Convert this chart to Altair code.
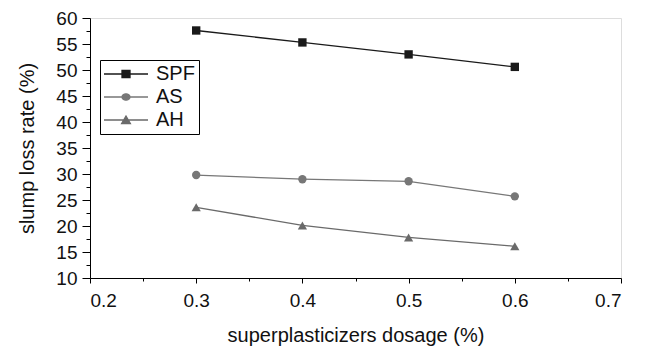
import altair as alt
import pandas as pd

dosage = [0.3, 0.4, 0.5, 0.6]
spf = [57.6, 55.3, 53.0, 50.6]
as_vals = [29.8, 29.0, 28.6, 25.7]
ah_vals = [23.6, 20.1, 17.8, 16.1]

series_names = ["SPF", "AS", "AH"]
series_colors = ["#1a1a1a", "#777777", "#6a6a6a"]
marker_shapes = ["square", "circle", "triangle-up"]
marker_sizes = [70, 70, 85]
legend_shapes = [
    "M-2.75,0H2.75M-0.5,-0.45H0.5V0.45H-0.5Z",
    "M-2.75,0H2.75M-0.5,0A0.5,0.4,0,1,0,0.5,0A0.5,0.4,0,1,0,-0.5,0Z",
    "M-2.75,0H2.75M0,-0.5L0.55,0.45L-0.55,0.45Z",
]

x_major = [0.2, 0.3, 0.4, 0.5, 0.6, 0.7]
x_minor = [0.25, 0.35, 0.45, 0.55, 0.65]
y_major = [10, 15, 20, 25, 30, 35, 40, 45, 50, 55, 60]
y_minor = [12.5, 17.5, 22.5, 27.5, 32.5, 37.5, 42.5, 47.5, 52.5, 57.5]

rows = []
for name, vals in zip(series_names, [spf, as_vals, ah_vals]):
    for d, v in zip(dosage, vals):
        rows.append({"dosage": d, "rate": v, "series": name, "key": name})
df = pd.DataFrame(rows)

FONT = "Liberation Sans"
xscale = alt.Scale(domain=[0.2, 0.7], nice=False, zero=False)
yscale = alt.Scale(domain=[10, 60], nice=False, zero=False)
cscale = alt.Scale(domain=series_names, range=series_colors)

x_axis = alt.Axis(values=x_major, format=".1f", title="superplasticizers dosage (%)", orient="bottom",
                  grid=False, tickSize=5, labelFontSize=19, titleFontSize=20,
                  labelPadding=8, titlePadding=15, domainColor="black", tickColor="black",
                  labelColor="#111", titleColor="#111", titleFontWeight="normal",
                  labelFont=FONT, titleFont=FONT)
y_axis = alt.Axis(values=y_major, format="d", title="slump loss rate (%)", orient="left",
                  grid=False, tickSize=8, labelFontSize=19, titleFontSize=20,
                  labelPadding=5, titlePadding=18, domainColor="black", tickColor="black",
                  labelColor="#111", titleColor="#111", titleFontWeight="normal",
                  labelFont=FONT, titleFont=FONT)

base = alt.Chart(df)

lines = base.mark_line(strokeWidth=1.3).encode(
    x=alt.X("dosage:Q", scale=xscale, axis=x_axis),
    y=alt.Y("rate:Q", scale=yscale, axis=y_axis),
    color=alt.Color("series:N", scale=cscale, legend=None),
    detail="series:N",
)

point_layers = []
for name, shp, sz in zip(series_names, marker_shapes, marker_sizes):
    point_layers.append(
        base.transform_filter(alt.datum.series == name).mark_point(
            filled=True, size=sz, opacity=1, shape=shp
        ).encode(
            x=alt.X("dosage:Q", scale=xscale, axis=None),
            y=alt.Y("rate:Q", scale=yscale, axis=None),
            color=alt.Color("series:N", scale=cscale, legend=None),
        )
    )

minor = base.mark_point(opacity=0).encode(
    x=alt.X("dosage:Q", scale=xscale,
            axis=alt.Axis(values=x_minor, labels=False, title=None, domain=False, grid=False,
                          orient="bottom", tickSize=3, tickColor="black")),
    y=alt.Y("rate:Q", scale=yscale,
            axis=alt.Axis(values=y_minor, labels=False, title=None, domain=False, grid=False,
                          orient="left", tickSize=4, tickColor="black")),
)

leg = alt.Legend(title=None, orient="none", legendX=10, legendY=42,
                 strokeColor="black", padding=4, symbolOffset=12,
                 labelOffset=20, rowPadding=3, labelFontSize=20,
                 labelFont=FONT, labelColor="#111", symbolOpacity=1,
                 symbolStrokeWidth=1.3, symbolSize=256)

legend_layer = base.mark_point(filled=True, size=256, strokeWidth=1.3).encode(
    x=alt.X("dosage:Q", scale=xscale, axis=None),
    y=alt.Y("rate:Q", scale=yscale, axis=None),
    color=alt.Color("key:N", scale=alt.Scale(domain=series_names, range=series_colors), legend=leg),
    stroke=alt.Stroke("key:N", scale=alt.Scale(domain=series_names, range=series_colors), legend=leg),
    shape=alt.Shape("key:N", scale=alt.Scale(domain=series_names, range=legend_shapes), legend=leg),
).transform_filter("false")

chart = alt.layer(lines, *point_layers, minor, legend_layer).resolve_axis(
    x="independent", y="independent"
).resolve_scale(color="independent", stroke="independent", shape="independent").properties(
    width=531, height=260,
    autosize=alt.AutoSizeParams(type="none"),
    padding={"left": 90, "top": 18, "right": 25, "bottom": 72},
).configure_view(stroke=None).configure(background="white")

chart.save("out.html", embed_options={"renderer": "svg", "actions": False})
